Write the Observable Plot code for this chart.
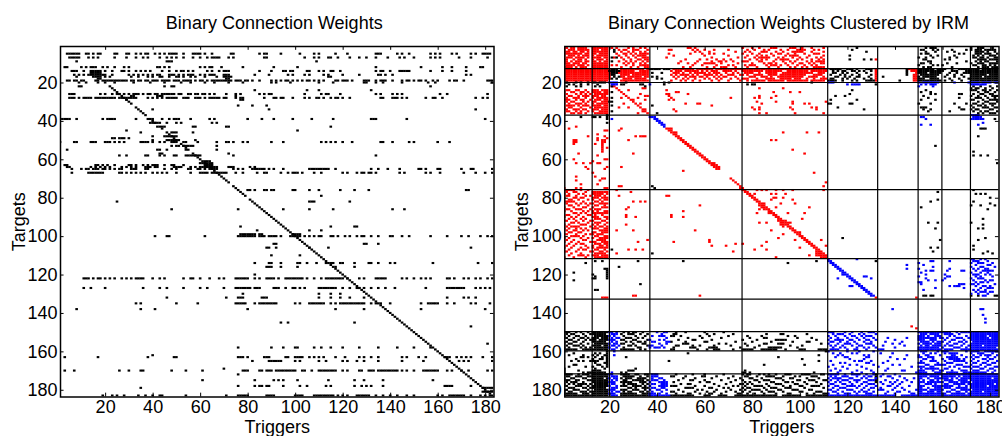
<!DOCTYPE html>
<html><head><meta charset="utf-8">
<script src="https://cdn.jsdelivr.net/npm/d3@7"></script>
<script src="https://cdn.jsdelivr.net/npm/@observablehq/plot@0.6"></script>
<style>
html,body{margin:0;padding:0;background:#fff;width:1002px;height:436px;overflow:hidden}
#wrap{display:flex;width:1002px}
svg{display:block;overflow:visible}
svg g[aria-label="rect"]{filter:blur(0.45px)}
</style></head><body><div id="wrap"></div>
<script>
const tickValues = [20,40,60,80,100,120,140,160,180];
const clusterEdges = [12.5,19.75,36.75,75.5,111.5,132.5,149.5,159.5,171.5];
const leftTitle = "Binary Connection Weights";
const rightTitle = "Binary Connection Weights Clustered by IRM";

// each entry: "target: triggers", a-b being a run of triggers
const leftDiagonal = "22: 22-31 33-37 40-41 44 46-50 52-55 57-60 62-72 74-79 81-183";
const leftRows = [
"5: 4-9 12 13 15 17 18 24 25 29 30 33 35 37 38 41 43 45 47-50 53 57-60 62 65 73 74 85 87 88 94 102 108 110 117 122 134-136 143 145 148 157 159 161 166 168 174 176 179-182",
"7: 5-9 13 15 17 24 29 33 36 38 43 46 48 50 53 57 60 63 65-68 72 74 87 88 104 108 110 114 115 118 123 127 130 134 139 144 146 150 157 159 161 169 174 181",
"9: 8 46-48 109",
"12: 3 4 10 12 14-16 19 21 24 28 30 42 43 45 47 60 62 64 65 69 78 91 101 134 153 162 166 172 178 179",
"14: 6-8 11 14-18 20 23 27 28 30 33 35 37 39 44 47 50 52 53 55 57 63 65 68 70-72 85 90 95 96 98 99 105 106 110 112 115 116 119 134 136 137 140 144-148 157 162 166 172",
"15: 14-18",
"16: 7 9 11 13-20 23 30 32 34 36 38 40 42 43 47-49 51 53 55-57 60 62 64-66 70-72 83 89 97 99 104 106 112 114 120 127 135 136 138 141 172 174",
"17: 8 15-18 20 22 31 34 38 40 43 44 47 50 51 53 56 58 62 67 70-73 114 115",
"18: 17 18 71 72",
"19: 4 5 7 8 10 11 16 17 19-29 31 32 34 35 37 38 40-42 44-47 49-51 53-56 58 60 61 63 65-73 75-77 79 80 82 85 90 92 94 96 97 99 101 103 105 106 108 110 112 117 118 120-122 124 129-131 134 136-138 141 145 147 148 150 152 153 155 158 160 165 167 168 171 181-183",
"20: 9 12 17 20 24 32 39 45 52 56 62 66 72 78 90 92 98 110 116 129 130 134 137 145 156 159 183",
"22: 9 10 45 48 49 157",
"24: 83 105 110 132",
"26: 5-7 18 20 23 25 26 28 30 32-34 36 38 39 41 42 44-49 51 52 55 56 58 59 61 62 64 66 71 75 77 85 87 89 90 104 111 113 114 119 134 136 141 143 145 161 164 181",
"27: 31 32 42-44 75",
"28: 5-7 9 11-14 16-24 26-33 38 40 42 44 46-50 53-55 58-60 62 64-68 70 71 75 77 78 87 91 92 94 95 99 104 106 109 110 112 115 117 118 120 123 136 137 141-143 145 147 155 158 159 162 176 179 181",
"29: 29 77 78",
"32: 76 82 88",
"34: 40 89 176",
"39: 2-5 8 19 21-24 33 38-40 44 47 49-51 56 64 66 80 86 91 99 107 116 132-134 147 180",
"41: 39-43 46 50 52 65 67",
"43: 42-45 57 58 71 72 115",
"45: 29 101",
"46: 35 48-50 57",
"48: 40 45-50",
"50: 40 46-51 58",
"49: 23 24 26-28 30",
"51: 1 7 8 14-16 20-22 24 26 28 35-38 40 43 45 48-50 53 54 59 67 71 72 74 78 80 90 95 111 113 115 117 120 124 136 137 141 148 150 160 165",
"53: 48 50 51 53-57 67",
"55: 4 42 43 46 54 67",
"57: 43 44 72",
"58: 26 29 37 38 43 45 49 50 54-60 74 134",
"61: 61-64",
"62: 60-65",
"63: 3 4 16 17 19 21 24 30 31 33 36 38 40-42 45 48 49 53 62-65",
"64: 4 5 14 16 18 20 22 27 29 31 33 37-39 41 42 49-52 56 58 60-67 72-74 81 83",
"65: 6 10 12 13 15-17 19 20 22 24 26 27 31-33 37 38 45 48 50 55 56 59 60 62 64-67 74 76 78 84 85 87 82 83 86 89 91 95 106-114 117 132 135 139 144 152 153 155 160 161 170 174 175 183",
"67: 6 13-19 26 27 29 31 33 35 37 40 42 44 46 50 56 60-63 65-71 75 78 84 87 88 94 97 99-101 103 108 111 120 122 126 128 129 131 132 134 144 146 155 157 161 171 176 180 183",
"76: 80 81 83 87 90 88 91 99 100 106 110 119 125 131 172 173",
"79: 111",
"82: 25 106-108 123",
"86: 48 76 95 106 116 141 146",
"95: 77 115 125 126",
"97: 84 106 111",
"100: 41 46 47 62 76-83 85-87 89-92 94 98-102 104 106 108 110 111 115 116 118 121 123 126 128 129 132 135 140 141 145 148 157 164 170 173 178 181 183",
"99: 77-83 85 86 99-102",
"104: 91 92 129 130 135",
"106: 88 89 92 106 114 174",
"110: 90 102",
"114: 83 89 90 94 101 102 105 109 113 115 116 119 120 125 131 132 135 140 142 158 177 183",
"116: 88-90 94 101 117 125",
"120: 83",
"122: 11-13 15 17 18 20 22 24 27 29 31 33-36 40 43 45 53 56 57 60 64 68 70 75-80 83 85 88-91 93 96-103 105 108 111 113-120 122 127 129 134-138 145 147 150 153 155 157 164 165 167 171 173 176 178 181 183",
"127: 11 14 20 36 43 46 53 60 63 70 75-81 83-85 91-93 96 99 100 102 104 110-117 120 123 126 127 129 132 135 138 142 155 164-171 176 178 180 182",
"130: 78 110 115 119",
"132: 46 71 76-78 86-88 110 115 119 123 129 164 171 173 176",
"135: 33 35 50 59 75-79 83 85-92 100 102 106-112 115 117 119-129 132 134 136 140 153 156-160 164 167 174 176 182",
"138: 8 35 41 80 117 129 153 180",
"145: 94 97 125",
"147: 174",
"158: 76 90 95 100 101 108 111 115 120 127 135 143 150 157",
"156: 181",
"162: 40",
"163: 3 17 38 49 50 76-78 80 87-89 96 97 100-103 106 108 110 112 117 121 127 129 132 135 145 147 152 155 163-165 168 170 172 174 179 183",
"165: 82 89-94 100 102 110 113 120 122 126 129 135 145 154 169 171 173 183",
"169: 70",
"170: 3 7 26 30 35 36 48 54 61 78-80 85 86 88-90 92-100 103 104 107 110-117 120 122 127 128 131-133 135-143 145 147 150 154-160 164 166 170 173 181 183",
"172: 76",
"175: 61 83 91 93 95 101 114 125 129 137 158",
"178: 76 83 85 86 88 89 95 102 105 113 115 125 128 130 132 137 163-166 174",
"179: 35 179-183",
"181: 179-183",
"183: 19 23 25 28 34 37 40 43 44 54 71 76-80 88-91 100-103 108-116 118 120 122 126-131 134 137 140 143 147 150 160 162 165-171 174 178 180 182"
];

const redRows = [
"1: 1-4 6-11 13-19 24 26-28 31-34 77-79 82 84-87 92 94 98-100 104 107-109",
"2: 1 2 4 5 7-10 13-19 21 23 28 30 33 35 53 54 56 76 80 83 88-90 96-98 101 105 110",
"3: 1 3-5 7-11 13-15 17-19 24 26 27 30-32 36 45 46 55 57 60 64 70 78 81 85 87 92 95 99-102 106 108",
"4: 1-3 5 6 8 9 11 13-19 25 28 30 33 35 56 58 62 73 77 79 84-86 90 93 97-101 105 110",
"5: 1-8 10 11 13 14 16-19 23 26 27 29 31 33-36 45 54 59 62 64 68 76 80 83 88 91 92 95 98 102 106-108",
"6: 1 3-5 7 9-11 13 15-19 24 27 30 32-35 47 60 70 78 82 84 86 89 94 96-99 104 110",
"7: 2-4 6-9 11 13-16 18 19 22 25 28 31 34-36 44 63 74 77 81 83-87 91 93 97 100 103 107 109",
"8: 1 2 5 7 8 10 13 15-17 19 26 29 32 33 35 36 52 58 61 65 68 71 79 82 84 86 90 92-95 99 101 105 108 110 132",
"9: 1 2 4 6-8 10 11 13 14 16 18 19 24 27 29 31 34 36 50 57 63 66 67 69 72 76-78 83 84 89 93 96 98 103 105 107-110",
"10: 1-3 5-7 9 10 13-19 26 28 30 33 35 49 53 56 60-64 67 74 80 85 87 88 90 94 97 100 101 104 106 109 110",
"11: 2-5 7-9 11 13-19 21 23 27 30 33-36 55 59 65 70 72 77 79-81 86 88-90 92 95 99 102 105 107",
"12: 1-4 6 8-10 13-19 25 29 32 35 36 51 54 61 64 67-69 73 78 82 87 91 96 98 101 103 106-110",
"13: 1-20 25-34 36 47-55 57-63 65-111 146-149 132",
"14: 1-20 25-30 33-36 46 48-50 52-57 59 61 63-65 68-71 73 76-84 86-92 95-103 105-111 132 147-149",
"15: 1-20 24-36 47-49 51 54 56-60 62 64-66 69 72 74 77-80 83 86-90 93-105 108-110 132 149",
"16: 1-20 25-28 30-36 46 48 50-53 55 57 60-63 65 67 70-72 75 76 78 81-84 87-90 92-102 106-109 132 148 149",
"17: 1-20 25 26 28-33 35 36 47 49 52 54-56 58 59 61 64 66 68 69 73 79-81 84-86 88 91-101 104-107 110 132 148 149",
"18: 1-20 26-29 31-35 48 51 53 56 60 62 65 67 71 74 76-78 82 86-89 92-96 98-100 103 106 109-111 132 148 149",
"19: 1-19 25-36 46 50 52 55 58 63 66 70 75 78 80-85 87-93 95-103 105-110 132 148 149",
"22: 21 22",
"23: 23 34 35 83 93",
"24: 2 3 6 7 10 13-15 17-19 24 28 44",
"25: 1 4 5 8 9 11 13-16 18 19 25 48 49 89 96 100",
"26: 2 6 8 10 12 14-19 26 33 44 45 53",
"27: 1 3 4 7 9-11 13-15 17 18 27 35 36 45 83 90",
"28: 2 5-7 10 13 15-19 25 28 32 46 71 81 83 88",
"29: 1-3 6 8 9 12 14-16 18 19 29 30 35 45 47",
"30: 2 4 5 9 11 13 14 17-19 30 82 90 97 111",
"31: 1 3 6-8 10 13 15-19 26 31 33 52 57 58 84 97 102 104",
"32: 2-5 7 9-11 13-16 18 19 32 63",
"33: 1 3 4 8 12 14-19 24 28 33 80 83 96 105 107",
"34: 1 2 5-7 9 10 13-15 17-19 34 35 47 81 83 97 107",
"35: 2 3 6 8 11 13 16-19 34 35 48",
"36: 1 4 5 7 8 10 14-19 32 36 83 86 98 110",
"43: 6", "44: 3 25 44-46", "45: 18 19 24 45 46",
"46: 46-48 93 103 108", "47: 15 47 48", "48: 11 18 31 33-35 48 49", "49: 15 19 49 50",
"50: 5 6 15 17 18 28 50 51 88 90", "51: 5 6 17 18 51 52", "52: 5 14 17 52 53", "53: 17 53 54", "54: 17 19 54 55",
"55: 17 55 56 97", "56: 17 56 57", "57: 7 30 57 58 102", "58: 15 58 59", "59: 59 60", "60: 5 18 19 60 61", "61: 13 61 62",
"62: 6 9 12 15 16 62-64", "63: 63-65", "64: 10 19 25 64-66", "65: 11 18 65 66", "66: 51", "67: 13 106", "69: 6 14", "70: 17 18 71",
"71: 6 16 72", "72: 73 111", "73: 8 15 74", "74: 25 24 75 110", "75: 1 6 8 18 19 75 76",
"76: 1-5 8 11 23 76 77 82 84 86 90 93 97 110",
"77: 2 5 6 10 13-19 29 77 78",
"78: 1 3 7 9 13-17 19 78 79 81 88 90 94",
"79: 2 3 6 10 12 14-16 18 24 44 45 79 80",
"80: 1 5 6 8 9 13-15 17-19 80 81 89 90 93",
"81: 3 4 7 11 13 16 18 19 81 82 88 97",
"82: 1-5 9 14 15 17 30 33 35 82 83",
"83: 2 6 8 10 12 13 16-19 83-85 92 98",
"84: 3 4 7 11 14 15 18 58 83-85",
"85: 1 5 9 10 13 17-19 28 84-86 90 104",
"86: 2 3 6-8 12 14-16 27 83 85 86 87",
"87: 1 4 9 11 13 15 18 19 51 87 88",
"88: 5 6 8 10 13-19 82 87 88 89 95 102",
"89: 2 3 7 11 12 14 17 27 46 89 90",
"90: 1 4 6 9 13-15 18 19 27 31 46 51 90 91",
"91: 3 5 8 10 14-16 19 91 92 101",
"92: 1 2 6 9 12 13 17 18 91-94",
"93: 4 5 7 11 14-16 19 83 86 92-95 96",
"94: 1 3 8-10 13 15 18 27 92-95",
"95: 2 4-7 12 14 16 17 19 93 95 96",
"96: 1 3 6 8 10 13-15 18 19 96 97",
"97: 2 5 6 9 11 16-19 23 30 56 88 97 98",
"98: 3 4 7 8 13 14 17-19 98 99 100",
"99: 1 2 6 10 12 13 15-17 93 99 100",
"100: 4-7 9 14 15 18 19 100 101",
"101: 1 3 8 11 13 16-19 91 101 102",
"102: 2 5 9 10 15-18 36 62 98 102 103 109",
"103: 1 4 7 12 13 14 17-19 32 47 62 86 103 104",
"104: 3 6 8 9 14-16 18 19 73 76 104 105",
"105: 2 5 10 13 16 17 19 63 69 84 105 106 111",
"106: 1 4 8 11 13 15-19 100 106 107",
"107: 3 7 9 10 14 15 18 28 31 34 81 86 107 108",
"108: 1 2 6 12 13 16 17 19 72 107-109",
"109: 4 8 14-18 23 107-110",
"110: 3 7-9 11 13-15 17-19 104 107-111",
"111: 1 5 10 14-19 90 109-111",
"131: 30 31 58",
"132: 17-19 132 149",
"147: 147", "148: 149"
];

const blueRows = [
"20: 20-23 112-114 150 152-158 165 171-175 177-180 182 183",
"21: 21-23 37 120 122-125 151 153 155-157 172-178",
"22: 150 156",
"38: 37-39 151 152 173-176",
"39: 21 39 40 153 172-177",
"37: 172-175",
"40: 40 41", "41: 41 42 177", "42: 42 43 151 155 175", "43: 43",
"112: 112 124 172 173 176 178",
"113: 112 113 155 156 163 173-175 179",
"114: 113 114 150 172 175-177 181",
"115: 114 115 145 152 174 179 180",
"116: 115 116 156 172 176 177 182",
"117: 116 117 145 150 163 173 175 178 179",
"118: 117 118 153 155 156 162 168 169 174 177-181",
"119: 118 119 151 172 176 179",
"120: 118-120 153 161 173-175 178 180",
"121: 120 121 127 128 150 162 163 174 176 181",
"122: 116 121 122 130 153 161 172 175-177",
"123: 122 123 154 157 160 173 178 180 181",
"124: 123 124 150 151 174 176 177 179",
"125: 124 125 151 167-169 172 173 175 182",
"126: 121 122 125 126 163 165-167 174 177 178 180",
"127: 126 127 157 169 176 179-181",
"128: 127 128 152 173 175 178",
"129: 128 129 174 176-178 180 181",
"130: 129 130 172 175 179",
"131: 130 131 177 178",
"138: 139 176 177", "141: 177", "143: 178", "145: 178",
"150: 20 21 23 40 43 44 112-114 119 122 126 129-131 150-163 166 168-183",
"151: 21-23 42 114 116-118 121 125 127 132 151-153 155-158 161-164 167 172-183",
"152: 20 22 38 41-43 112 115 119 122 123 126 128-130 150-152 154 157-159 163 165 170 172-178 180-183",
"153: 21 23 24 44 113 116 120 124 127 131 137 145 150-157 159 160 162 166-168 171-179 181-183",
"154: 20-22 37 41 43 112 115-118 121 122 125 128 129 132 140 150-152 155-157 161 164 165 169 172-183",
"155: 21 23 38 39 44 45 113 114 117 120 123 127 130 136 143 151-154 156 158-160 163 167 168 170 173-183",
"156: 20 22 23 41 44 112 116 119-121 124 128-130 139 142 150 152-155 157-159 162 165 166 169 172-183",
"157: 21 22 24 37 38 42 113 115 118 122 125 126 131 135 144 151 153 154 156-159 161 163 164 168 171-176 178-183",
"158: 20 23 37 39-41 43 114 117 119 124 127 129 132 140 150-158 160 165-167 170 172-182",
"159: 21 22 113-116 120 123 124 128 133-135 150-159 161-164 168-183",
"160: 22 112 120 125 131 151-153 158 160-162 170 172-175 178-183",
"161: 114 117 122 124 134 139 152 155 157 161 163-166 172 175-177 181",
"162: 22 116 118 127 129 145 150 153 154 159 164 165 168 173 176 178-180 183",
"163: 115 119 120 128 129 138 150 151 154-156 162-166 170 172 174 175 179 182",
"164: 121 127 141 144 152 153 156 160 163-167 169 173 177 178 180 181",
"165: 113 123 125 126 130 137 151 155-157 161 165-169 172 175 179 183",
"166: 117 119 128 129 135 150-152 158 162-164 170 173 174 177 178 181 182",
"167: 114 121 124 131 139 142 153 154 157-161 166-168 172 176 179 180",
"168: 112 118 126 133 147 150-152 155 156 163 165 169-171 173-175 178 182 183",
"169: 115 120 128 137 151 153-158 161 162 167 172 176 177 180 181",
"170: 113 117 124 130 136 143 144 150-152 156 159 160 164 168-170 173-175 179 182",
"171: 21 116 122 126 131 149-153 157-159 162-166 169-178 181",
"172: 20 21 38-40 112-116 119 122-125 128 131 135 140 150-183",
"173: 21-23 38-40 113 115 118-120 124 127 129 130 134 137 138 142 150-153 155-158 160-165 167 169-183",
"174: 20 22 23 38 41 42 112 114-117 121 122 126 128 132 139 144 148 150 151 154 157-162 164 166 168-180 182 183",
"175: 21 23 38-40 43 113 116 118-120 123-125 129-131 136 141 145 150 152 155 156 158 161-164 167-170 172-183",
"176: 20-22 37 41-44 112 115 117 121 124 127 128 134 138 140 143 147 150-152 154-160 163-166 168-171 173-183",
"177: 21 22 38 39 42-44 113 114 118 119 122 126 129-131 135 139 142 150 153-155 157 161 162 165-169 171-181 183",
"178: 20 23 37 41-44 112 115 116 120-123 125 128 132 137 138 141 146 150-152 156-164 167 170 172-178 180-183",
"179: 21-23 38 39 42 43 114 117-119 124 127 130 131 134 140 143 150 151 154 157-159 161-163 166-170 172-183",
"180: 20-22 37 40 41 44 112 113 116 120-122 126 129 133-135 139 144 149-153 155-160 164 165 168-171 173-183",
"181: 21 23 24 38 42 114 115 118 123 125 127 128 131 137 141 142 146 150 151 154-156 158 159 162 163 166 167 170 172-176 178-183",
"182: 20-22 37-39 41 44 112 116 119-121 124 128-130 136 140 147 148 150-161 164-169 171-183",
"183: 21-23 37-45 112-140 143-183"
];

const blackRows = [
"1: 120 124 140 173-176 179 180",
"2: 124 153 155-157 172 175-177 181",
"3: 22 122 151 152 156 158 164 170 172 174-176 178-182",
"4: 22 128 153 157 162 165 174-177 179 182",
"5: 151 153 154 167 169 174-176 178-180 183",
"6: 121 155 158 165 173 175 177 180-182",
"7: 21 23 150 153 156 163 166 173 174 176 177 179 182 183",
"8: 121 127 130 152 153 161 163 175-178 180-183",
"9: 21 154 155 170 174 176 178 179 183",
"10: 151 152 155 162 166 172 175-177 180-183",
"11: 150 156 158 160 173 174 177 178 180 182",
"12: 152 154 155 164 175 177-179 181-183",
"13: 21-23 37-41 43-45 113-117 120-122 124 128-130 145 150-156 158-161 164 167-175 177-183",
"14: 20-24 114 116 118 119 122 123 125 127 130 145 150-160 164-166 170-183",
"15: 21-23 38 42 114 115 118 120 124 128 145 150-153 155-159 163 166 169-183",
"16: 21 22 113 117 119 122 125 130 145 151-158 162 165 168 172-178 180-183",
"17: 22 24 38 40 115 116 119 121 124 125 129 135 150 152-157 161 165 169 172-176 178-183",
"18: 21 23 40 42 113 114 118 120 123 127 130 150-152 155-158 163 167 171-183",
"19: 112-115 118 122 124 128-131 142 150-159 161 164 168 172-183",
"20: 2 6 8 11 13 14 16-18 27 43 45 105",
"21: 3 5 8 11 15 25 26 33 34 43 78 80 81 132",
"22: 2 6 8 14 16 21 35 173 176 180 183",
"23: 172 174 175 178 181",
"24: 122 153 172-174 177 178 180 183",
"25: 21 151 155 175 178 179 182",
"26: 121 155 157 167 168 173 176 177 180 181",
"27: 115 119 152 172 175 178 181-183",
"28: 21 154 167 174-176 179 182",
"29: 113 124 151 157 172 173 177 180-183",
"30: 20 21 175 178 179 183",
"31: 112 113 121 122 150 155 165 170 173 174 177 180-182",
"32: 21 38 172 175 176 178 181",
"33: 116 151-153 167 173 177-179 182 183",
"34: 127 152 155 168 169 172 174 175 180 181",
"35: 21 154 163 173 176 178 179 183",
"36: 40 175 177 180-182",
"37: 19", "38: 8 13 14 16 19", "39: 19 182", "41: 19", "44: 176-178", "48: 175", "53: 157", "56: 173", "58: 173 176 179", "62: 183",
"74: 38", "75: 39",
"76: 173", "77: 158", "78: 174 176 178", "80: 180", "81: 158", "82: 155 173", "83: 180", "84: 172 176 182", "85: 151", "86: 179",
"91: 177", "93: 154 158 172", "94: 177", "96: 157 175 177", "101: 118 178", "102: 159 175", "105: 173", "106: 155 158", "107: 21 173", "108: 156 179", "109: 38 177 181",
"113: 14 17 32 51 107 132", "114: 10 95", "116: 24", "117: 18 19", "118: 19", "119: 5 19", "120: 13 19", "121: 14 19", "122: 13 14 19", "123: 5", "125: 33", "128: 14 15",
"131: 152 153 155 156 172 175 182 183",
"150: 1-3 6 8 11 13-19 26 28 30 31 34 48 52 60 68",
"151: 2 4 5 9 12-18 25 28-30 33 36 47 48 61 64 72 86 92 93 103",
"152: 1 3 6 7 10 14-19 26 31 35 46 47 50 58 62 70 78 84 95 98",
"153: 1 2 5 8 9 11 13-15 17-19 27-29 32 34 53 59 67 79 85 86 99 105",
"154: 3 4 7 10 12-14 16-19 25 26 30 31 36 49 55 56 63 76 82 90-94 107",
"155: 1 2 5 6 9 13-18 27 29 32 33 35 46 52 60 61 73 80 88 97 103 104",
"156: 1 3 4 8 11 14-19 25 26 30 34 35 51-53 66 69 77 85 86 91-93 109",
"157: 2 5-7 9 13-16 18 19 28 29 31 36 48 49 55 58 64 71 78 83 96 101",
"158: 1 3 8 10 12 14-19 26 32 33 47 54-56 62-65 75 81 87-92 99",
"159: 1-6 9-19 25-30 33 35 46 47 57 61 64-66 72 76-80 84-90 94 100-102 108-111",
"160: 19 111", "161: 5 14 16 19 53", "162: 3 9 13 15 18 19 108", "163: 8 9 11 14 17 19 27 91", "164: 6 13 16 17 19 101",
"165: 4 7 9 12-15 19 45 108", "166: 14 18 19", "167: 5 6 15 16 19 85 102", "168: 3 10 13 17 19", "169: 1 14 18 31",
"170: 1 7 13-16 28-30 77", "171: 1 9 11-18 25 27 76 77 79 106",
"172: 1-4 7 9-11 13-19 25-28 31 32 35 36 48 55 60 68 76 78 79 83 85 87 90 94-96 101-104 109 110 132",
"173: 2 3 6-8 11-19 26-30 33 36 46 47 52 59 60 65 72 77 78 82 86-89 93 98 100 105-107 132",
"174: 1 4 5 9 10 13-17 19 25 27-29 32-35 51 56 63 70 75 79 80 84 90-92 96 97 103 108 132",
"175: 1-3 6 7 11-19 26 27 30-34 36 49 54 55 60 67 73 76 81 82 85-87 93 99 100 104-106 110 111 132",
"176: 2 4-6 9 13-19 25-29 33-35 47 58 61 62 71 77 79 83 88 89 94 95 97 102 107 132",
"177: 1 3 5 7-10 12 14-19 26 28-31 34 36 50 53 54 64 69 75 76 78 80 86 90-92 98 99 103 109",
"178: 1 2 6-8 11 13-19 25-27 30-33 35 46-48 56 60 66 72 74 77 81-84 87 93 96 100 101 105-108",
"179: 3-5 9 10 12-18 28 29 31 34-36 52-55 62 63 68 70 76 78 79 85 88-90 94-96 102 110",
"180: 1 2 5-7 11 14-19 25-27 30-32 35 49 57 59 65 71 75 77 80-83 86 91 92 97-99 104 105",
"181: 1 3 4 8-10 12-19 26 28 29 33 34 36 46 47 51 56 61 64 69 73 76 79 84 87-89 93 100 101 107-109",
"182: 1-6 9-11 13-19 25-31 34-36 48 53 54 58 62 63 67 74 75 78 81 85 90 95 96 103 106 110 111",
"183: 1-19 25-36 46-55 60-62 66-69 73-90 93-100 103-111"
];

const parse = (rows, fill, diag) => rows.flatMap(r => {
  const [y, s] = r.split(":");
  return s.trim().split(/\s+/).flatMap(t => {
    const [a, b = a] = t.split("-").map(Number);
    return d3.range(a, b + 1).map(x => ({x, y: diag ? x : +y, fill}));
  });
});

const leftCells = [...parse(leftRows, "#000"), ...parse([leftDiagonal], "#000", true)];
const rightCells = [...parse(redRows, "#f00"), ...parse(blackRows, "#000"), ...parse(blueRows, "#00f")];

function panel(cells, title, titleDx, edges, marginLeft, marginRight, labelOffset, fontSize) {
  return Plot.plot({
    width: 501, height: 436,
    marginTop: 46, marginBottom: 39.5, marginLeft, marginRight,
    style: {background: "#fff", fontFamily: "'Liberation Sans', Arial, sans-serif", color: "#000", overflow: "visible"},
    x: {domain: [1, 183.5]},
    y: {domain: [1, 183.5], reverse: true},
    marks: [
      Plot.rect(cells, {x1: d => d.x - .55, x2: d => d.x + .55, y1: d => d.y - .55, y2: d => d.y + .55, fill: "fill", clip: true}),
      Plot.ruleX(edges, {stroke: "#000", strokeWidth: 1.2}),
      Plot.ruleY(edges, {stroke: "#000", strokeWidth: 1.2}),
      Plot.ruleX(tickValues, {y1: 1, y2: 3, stroke: "#000", strokeWidth: 1}),
      Plot.ruleX(tickValues, {y1: 181.5, y2: 183.5, stroke: "#000", strokeWidth: 1}),
      Plot.ruleY(tickValues, {x1: 1, x2: 2.5, stroke: "#000", strokeWidth: 1}),
      Plot.ruleY(tickValues, {x1: 182, x2: 183.5, stroke: "#000", strokeWidth: 1}),
      Plot.frame({stroke: "#000", strokeWidth: 1.5}),
      Plot.axisX({ticks: tickValues, tickSize: 0, tickPadding: 3, fontSize, label: "Triggers", labelAnchor: "center", labelArrow: "none", labelOffset: 36, tickFormat: d => d}),
      Plot.axisY({ticks: tickValues, tickSize: 0, tickPadding: 3, fontSize, label: "Targets", labelAnchor: "center", labelArrow: "none", labelOffset, tickFormat: d => d}),
      Plot.text([title], {frameAnchor: "top", dy: -30, dx: titleDx, fontSize: 18, fill: "#000"})
    ]
  });
}

const wrap = document.getElementById("wrap");
wrap.append(
  panel(leftCells, leftTitle, -3, [], 60, 7.5, 48, 15),
  panel(rightCells, rightTitle, 6.6, clusterEdges, 63.3, 3.5, 50, 14.4)
);
// larger axis names
wrap.querySelectorAll('svg g[aria-label$="label"] text').forEach(t => t.setAttribute("font-size", 18));
</script></body></html>
